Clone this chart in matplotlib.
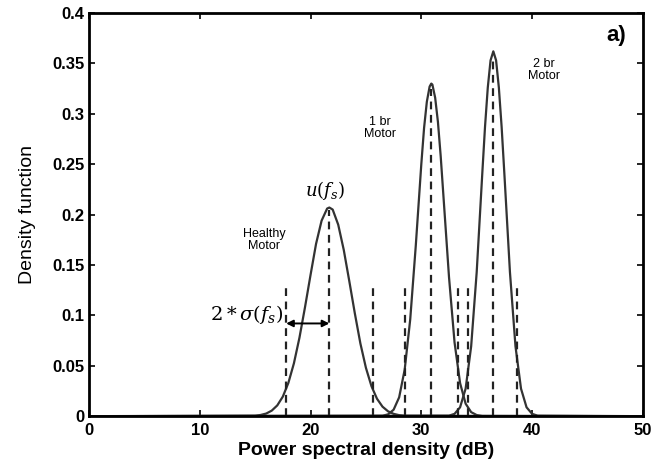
import numpy as np
import matplotlib.pyplot as plt

plt.rcParams['font.family'] = ['Liberation Sans', 'DejaVu Sans']
plt.rcParams['mathtext.fontset'] = 'dejavuserif'

# density curves
healthy_x = [0, 15, 15.5, 16, 16.5, 17, 17.5, 18, 18.5, 19, 19.5, 20, 20.5, 21, 21.5, 21.7,
             22, 22.5, 23, 23.5, 24, 24.5, 25, 25.5, 26, 26.5, 27, 27.5, 28, 28.5, 50]
healthy_y = [0, 0.0005, 0.0012, 0.0026, 0.0055, 0.0107, 0.0194, 0.033, 0.0524, 0.0778, 0.108,
             0.140, 0.171, 0.194, 0.206, 0.207, 0.205, 0.190, 0.165, 0.134, 0.102, 0.0722,
             0.048, 0.0298, 0.0173, 0.0094, 0.0048, 0.0023, 0.001, 0.0004, 0]

br1_x = [0, 26.5, 27, 27.5, 28, 28.5, 29, 29.5, 30, 30.25, 30.5, 30.75, 30.9, 31, 31.25,
         31.5, 31.75, 32, 32.5, 33, 33.5, 34, 34.5, 35, 35.5, 50]
br1_y = [0, 0.0004, 0.0018, 0.0064, 0.0187, 0.0462, 0.0961, 0.169, 0.250, 0.286, 0.312,
         0.327, 0.330, 0.329, 0.316, 0.292, 0.258, 0.218, 0.138, 0.0732, 0.0328, 0.0124,
         0.004, 0.0011, 0.0002, 0]

br2_x = [0, 32.5, 33, 33.5, 34, 34.5, 35, 35.5, 35.75, 36, 36.25, 36.5, 36.75, 37, 37.25,
         37.5, 38, 38.5, 39, 39.5, 40, 40.5, 50]
br2_y = [0, 0.0005, 0.0023, 0.0088, 0.0273, 0.0693, 0.143, 0.240, 0.287, 0.326, 0.353,
         0.362, 0.353, 0.326, 0.287, 0.240, 0.143, 0.0693, 0.0273, 0.0088, 0.0023, 0.0005, 0]

# dashed markers: means and mean +/- 2 sigma
dash_x = [17.8, 21.7, 25.6, 28.5, 30.9, 33.3, 34.2, 36.5, 38.6]
dash_top = [0.13, 0.205, 0.13, 0.13, 0.325, 0.13, 0.13, 0.357, 0.13]

xticks = [0, 10, 20, 30, 40, 50]
yticks = [0, 0.05, 0.1, 0.15, 0.2, 0.25, 0.3, 0.35, 0.4]
ytick_labels = ['0', '0.05', '0.1', '0.15', '0.2', '0.25', '0.3', '0.35', '0.4']

fig = plt.figure(figsize=(6.54, 4.65), dpi=100)
ax = fig.add_axes([0.136, 0.105, 0.847, 0.867])

line_col = '#333333'
ax.plot(healthy_x, healthy_y, color=line_col, linewidth=1.6)
ax.plot(br1_x, br1_y, color=line_col, linewidth=1.6)
ax.plot(br2_x, br2_y, color=line_col, linewidth=1.6)

ax.vlines(dash_x, 0, dash_top, colors='#222222', linewidth=1.6, linestyles=(0, (3.5, 2.5)))

# 2*sigma arrow
ax.annotate('', xy=(17.8, 0.092), xytext=(21.7, 0.092),
            arrowprops=dict(arrowstyle='<|-|>', color='black', lw=1.4, shrinkA=0, shrinkB=0,
                            mutation_scale=10))
ax.text(17.5, 0.101, r'$2*\sigma(f_s)$', ha='right', va='center', fontsize=14)
ax.text(21.3, 0.224, r'$u(f_s)$', ha='center', va='center', fontsize=13)

ax.text(15.8, 0.175, 'Healthy\nMotor', ha='center', va='center', fontsize=9, linespacing=1.0)
ax.text(26.3, 0.286, '1 br\nMotor', ha='center', va='center', fontsize=9, linespacing=1.0)
ax.text(41.1, 0.343, '2 br\nMotor', ha='center', va='center', fontsize=9, linespacing=1.0)
ax.text(47.6, 0.378, 'a)', ha='center', va='center', fontsize=16, fontweight='bold')

ax.set_xlim(0, 50)
ax.set_ylim(0, 0.4)
ax.set_xticks(xticks)
ax.set_yticks(yticks)
ax.set_yticklabels(ytick_labels)
ax.tick_params(direction='in', top=True, right=True, length=4, width=1.2,
               labelsize=12, pad=3)
ax.tick_params(axis='x', pad=5)
for lbl in ax.get_xticklabels() + ax.get_yticklabels():
    lbl.set_fontweight('bold')
for s in ax.spines.values():
    s.set_linewidth(2)

ax.set_xlabel('Power spectral density (dB)', fontsize=14, fontweight='bold', labelpad=3)
ax.set_ylabel('Density function', fontsize=14, labelpad=12)

fig.savefig('out.png', dpi=100)
